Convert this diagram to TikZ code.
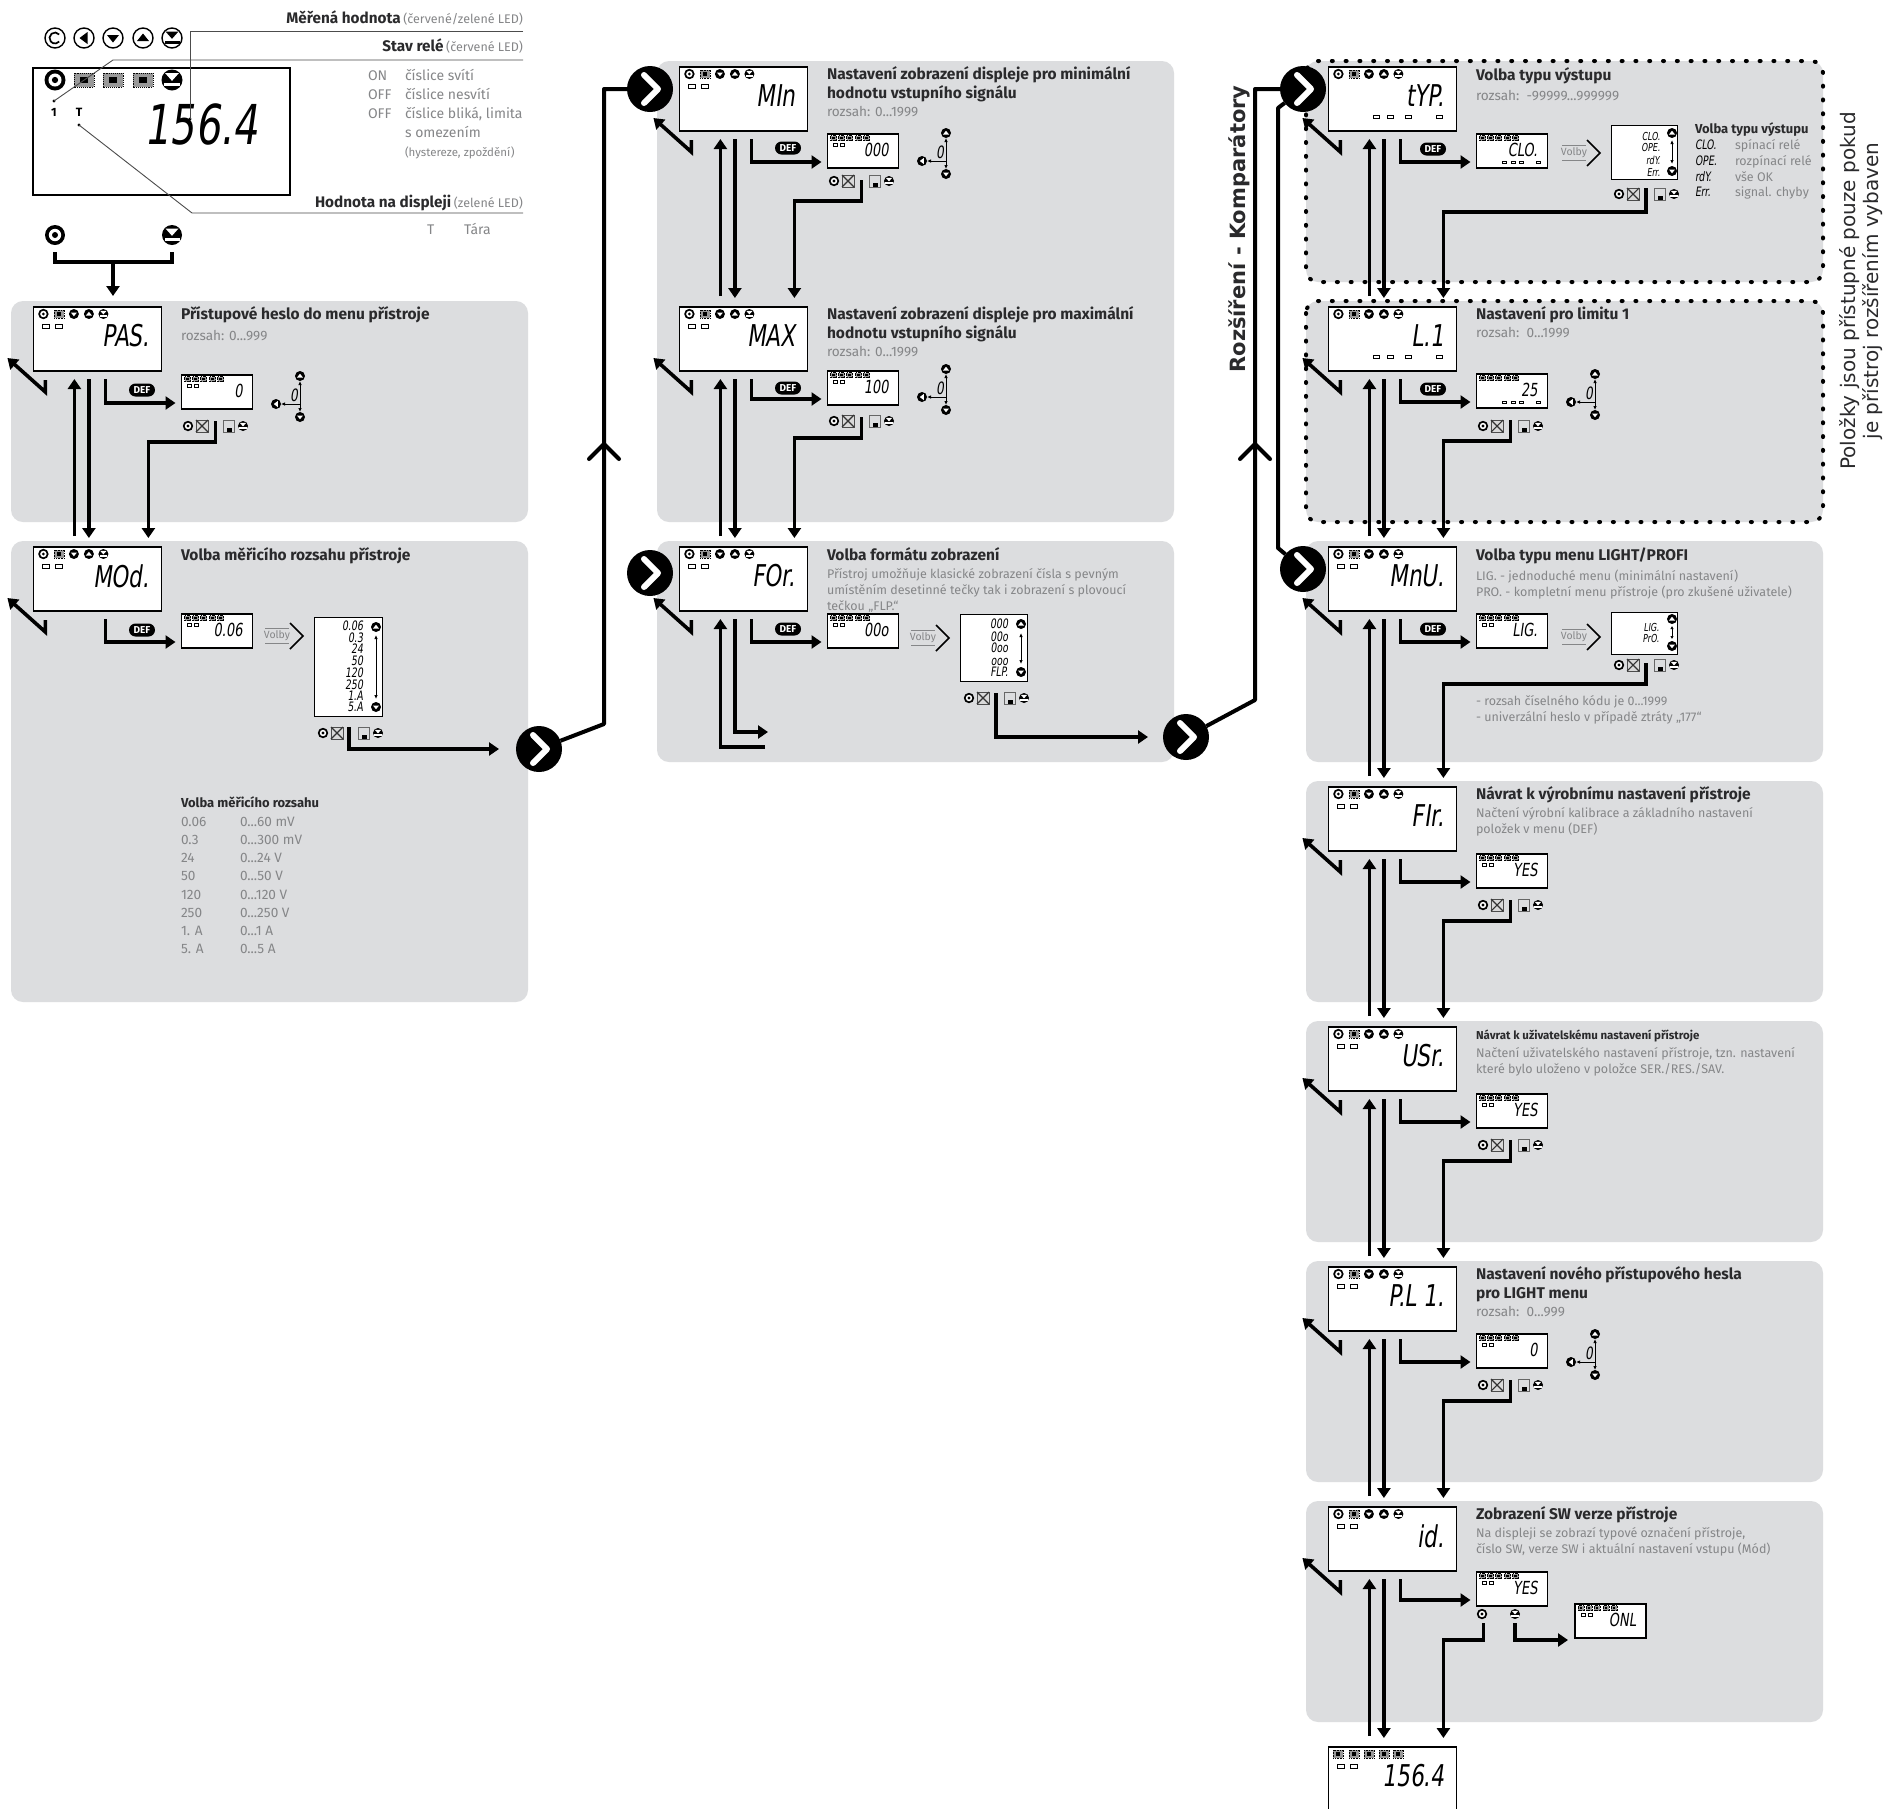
\documentclass[tikz,border=0pt]{standalone}
\usepackage{fontspec}
\setmainfont{Fira Sans}
\newfontfamily\segf[FakeStretch=0.72,FakeSlant=0.14]{DejaVu Sans}
\newfontfamily\djfont{DejaVu Sans}
\usetikzlibrary{arrows.meta,calc}
\definecolor{pfill}{HTML}{DCDDDF}
\definecolor{gr}{HTML}{858688}
\definecolor{dk}{HTML}{2A2A2C}
\newcounter{tc}
\newcommand\fs[1]{\fontsize{#1}{#1}\selectfont}
\newcommand\ddd{...}
\tikzset{
 conn/.style={line width=3.6pt,draw=black,-{Triangle[length=10pt,width=13pt]}},
 plainconn/.style={line width=4pt,draw=black},
 txt/.style={anchor=base west,inner sep=0pt,outer sep=0pt},
 ttl/.style={txt,yshift=-5pt,font=\bfseries\fs{15.5},text=dk},
 ttlm/.style={txt,yshift=-4pt,font=\bfseries\fs{13},text=dk},
 ttls/.style={txt,yshift=-4pt,font=\bfseries\fs{11.5},text=dk},
 dsc/.style={txt,yshift=-4pt,font=\fs{12.5},text=gr},
 rng/.style={txt,yshift=-4pt,font=\fs{13.6},text=gr},
 seglab/.style={anchor=east,inner sep=0pt,outer sep=0pt,text=black},
 bigfr/.style={anchor=north west,draw=black,line width=1.3pt,fill=white,minimum width=128pt,minimum height=64pt,inner sep=0pt,outer sep=0pt},
 smfr/.style={anchor=north west,draw=black,line width=1.1pt,fill=white,minimum width=71pt,minimum height=34pt,inner sep=0pt,outer sep=0pt},
 thinarr/.style={line width=.8pt,draw=black,-{Latex[length=4pt,width=3.5pt]}},
 chev/.style={circle,fill=black,minimum size=46pt,inner sep=0pt,outer sep=0pt},
 leader/.style={line width=.9pt,draw=black!70},
 pill/.style={fill=black,text=white,rounded corners=6.5pt,minimum width=26pt,minimum height=13pt,inner sep=0pt,font=\bfseries\fs{10}},
}
\newcommand\tx[4][]{\stepcounter{tc}\edef\tn{t\arabic{tc}}\node[#1] (\tn) at (#2,#3) {#4};}
\def\gc{white}
\newcommand\icd{\fill[\gc] (-.6,-.3)--(.6,-.3)--(0,.45)--cycle;}
\newcommand\icu{\fill[\gc] (-.6,.3)--(.6,.3)--(0,-.45)--cycle;}
\newcommand\icl{\fill[\gc] (.35,-.6)--(.35,.6)--(-.45,0)--cycle;}
\newcommand\ice{\fill[\gc] (-.65,-.65)--(.65,-.65)--(0,.08)--cycle;\fill[\gc] (-.75,.25) rectangle (.75,.55);}
\newcommand\icc{\fill[white] (0,0) circle (.62);\fill[black] (0,0) circle (.3);}
\newcommand\iccc{\draw[line width=1.7pt] (0,0) ++(-40:.55) arc (-40:-320:.55);}
\newcommand\ic[4]{\begin{scope}[shift={(#2,#3)},scale=#4]\fill[black] (0,0) circle (1);#1\end{scope}}
\newcommand\oic[4]{\begin{scope}[shift={(#2,#3)},scale=#4]\def\gc{black}\draw[fill=white,line width=1.4pt] (0,0) circle (1);#1\end{scope}}
\newcommand\blink[6]{\draw[densely dotted,line width=#5pt,fill=black!40] (#1-#3/2,#2-#4/2) rectangle (#1+#3/2,#2+#4/2);\fill[black] (#1-#3/5,#2-#4/5) rectangle (#1+#3/5,#2+#4/5);}
\newcommand\led[3]{\draw[line width=.7pt,fill=white] (#1,#2-#3*.3) rectangle ++(#3,#3*.6);}
\newcommand\topicons[2]{\ic\icc{#1+10}{#2+7}{5.2}\blink{#1+26}{#2+7}{10}{8}{.6}{}\ic\icd{#1+40.5}{#2+7}{5}\ic\icu{#1+55.5}{#2+7}{5}\ic\ice{#1+70}{#2+7}{5}}
\newcommand\topblinks[2]{\foreach \u in {10,26,40.5,55.5,70}{\blink{#1+\u}{#2+7}{10}{8}{.6}{}}}
\newcommand\ledsa[2]{\led{#1+9}{#2+19}{7}\led{#1+22}{#2+19}{7}}
\newcommand\ledsb[2]{\foreach \u in {45,59,77,108}{\led{#1+\u}{#2+50}{6}}}
\newcommand\frameb[5]{\node[bigfr] (#1) at (#2,#3) {};\tx[seglab]{#2+116}{#3+29}{\segf\fs{30}#4}}
\newcommand\bb[2]{\frameb{#1}{22.4}{6}{#2}{}\topicons{22.4}{6}\ledsa{22.4}{6}}
\newcommand\sframe[4]{\node[smfr] (#1) at (#2,#3) {};\foreach \u in {6,14,22,31,39}{\blink{#2+\u}{#3+4}{6}{5}{.4}{}}\tx[seglab]{#2+61}{#3+16}{\segf\fs{18}#4}}
\newcommand\sba[4]{\sframe{#1}{#2}{#3}{#4}\led{#2+6}{#3+11}{4}\led{#2+13}{#3+11}{4}}
\newcommand\sbb[4]{\sframe{#1}{#2}{#3}{#4}\foreach \u in {26,35,43,60}{\led{#2+\u}{#3+28}{3.5}}}
\newcommand\crossic[2]{\draw[line width=.7pt,draw=black!70,fill=black!15] (#1-6,#2-6) rectangle (#1+6,#2+6);\draw[line width=1.1pt,black!80] (#1-6,#2-6)--(#1+6,#2+6) (#1+6,#2-6)--(#1-6,#2+6);}
\newcommand\saveic[2]{\draw[line width=.8pt,draw=black!60,fill=pfill] (#1-5.5,#2-6) rectangle (#1+5.5,#2+6);\fill[black] (#1-2,#2+1.5) rectangle (#1+3,#2+6);}
\newcommand\btnrow[2]{\ic\icc{#1-27}{#2}{5.2}\crossic{#1-13}{#2}\saveic{#1+14}{#2}\ic\ice{#1+28}{#2}{5}}
\newcommand\edit[1]{\ic\icu{289}{#1}{5}\ic\icd{289}{#1+41}{5}\ic\icl{265}{#1+28}{5}\draw[thinarr] (289,#1+28)--(289,#1+5);\draw[thinarr] (289,#1+28)--(289,#1+36);\draw[thinarr] (289,#1+28)--(270,#1+28);\tx[seglab]{287}{#1+19}{\segf\fs{17}0}}
\newcommand\volby[2]{\begin{scope}[shift={(#1,#2)}]\draw[gr,line width=1pt] (0,-8)--(24,-8) (0,7)--(24,7);\tx[anchor=center,inner sep=0pt,text=gr,font=\fs{10.5}]{12}{0}{Volby}\draw[line width=1.5pt] (25,-13)--(38,0)--(25,13);\end{scope}}
\newcommand\pbg[2]{\fill[pfill,rounded corners=12pt] (0,0) rectangle (#1,#2);}
\newcommand\pbgd[2]{\fill[pfill,rounded corners=12pt] (0,0) rectangle (#1,#2);\draw[line width=4pt,line cap=round,dash pattern=on 1pt off 12.8pt,rounded corners=12pt] (0,0) rectangle (#1,#2);}
\newcommand\pillnode[3]{\node[pill] (#1) at (#2,#3) {DEF};}
\newcommand\chevnode[3]{\node[chev] (#1) at (#2,#3) {};\draw[white,line width=6pt,line cap=round,line join=round] (#2-6,#3-14)--(#2+8,#3)--(#2-6,#3+14);}
% connectors
\newcommand\backarr[1]{\draw[conn] ([shift={(12,9)}]#1.south west) -- ++(0,12) -- ([shift={(-26,51)}]#1.north west);}
\newcommand\defarr[2]{\draw[conn] ([shift={(72,8)}]#1.south west) |- ([shift={(-6,28)}]#2.north west);}
\newcommand\linkb[2]{\draw[conn] ([shift={(41,-11)}]#2.north west) -- ([shift={(41,8)}]#1.south west);\draw[conn] ([shift={(55.5,8)}]#1.south west) -- ([shift={(55.5,-9)}]#2.north west);}
\newcommand\retb[2]{\draw[conn] ([shift={(34,12)}]#1.south west) -- ++(0,21) -| ([shift={(115,-9)}]#2.north west);}
\begin{document}
\begin{tikzpicture}[x=1pt,y=-1pt]
\useasboundingbox (0,0) rectangle (1903,1808);
\fill[white] (0,0) rectangle (1903,1808);
% ---- overview
\begin{scope}
\oic\iccc{55}{38}{10}\oic\icl{84}{38}{10}\oic\icd{113}{38}{10}\oic\icu{143}{38}{10}\oic\ice{172}{38}{10}
\node[draw=black,line width=2.6pt,fill=white,minimum width=257pt,minimum height=127pt,inner sep=0pt] (mainbox) at (161.5,131.5) {};
\ic\icc{55}{80}{10.5}\blink{84}{80}{20}{14}{.9}{}\blink{113}{80}{20}{14}{.9}{}\blink{143}{80}{20}{14}{.9}{}\ic\ice{172}{80}{10.5}
\tx[anchor=center,inner sep=0pt,font=\bfseries\fs{12}]{54}{112}{1}
\tx[anchor=center,inner sep=0pt,font=\bfseries\fs{12}]{79}{112}{T}
\tx[seglab]{258}{124}{\segf\fs{55}156.4}
\coordinate (d1) at (190,119);\coordinate (d2) at (54,101);\coordinate (d3) at (79,125);
\fill (d1) circle (1.7);\fill (d2) circle (1.7);\fill (d3) circle (1.7);
\draw[leader] (523,31) -| (d1);
\draw[leader] (523,60) -- (113,60) -- (d2);
\draw[leader] (523,213) -- (192,213) -- (d3);
\tx[txt,anchor=base east,yshift=-5pt]{523}{18}{\textbf{\fs{15.3}\color{dk}Měřená hodnota} {\fs{12.5}\color{gr}(červené/zelené LED)}}
\tx[txt,anchor=base east,yshift=-5pt]{523}{46}{\textbf{\fs{15.3}\color{dk}Stav relé} {\fs{12.5}\color{gr}(červené LED)}}
\tx[txt,anchor=base east,yshift=-5pt]{523}{202}{\textbf{\fs{15.3}\color{dk}Hodnota na displeji} {\fs{12.5}\color{gr}(zelené LED)}}
\tx[dsc,font=\fs{14}]{368}{76}{ON}\tx[dsc,font=\fs{14}]{405}{76}{číslice svítí}
\tx[dsc,font=\fs{14}]{368}{95}{OFF}\tx[dsc,font=\fs{14}]{405}{95}{číslice nesvítí}
\tx[dsc,font=\fs{14}]{368}{114}{OFF}\tx[dsc,font=\fs{14}]{405}{114}{číslice bliká, limita}
\tx[dsc,font=\fs{14}]{405}{133}{s omezením}
\tx[dsc,font=\fs{11.5}]{405}{152}{(hystereze, zpoždění)}
\tx[dsc,font=\fs{14}]{427}{230}{T}\tx[dsc,font=\fs{14}]{464}{230}{Tára}
\ic\icc{55}{235}{10}\ic\ice{172}{235}{10}
\end{scope}
% ---- column 1
\begin{scope}[shift={(11,301)}]
\pbg{517}{221}\bb{pas}{PAS.}\sba{pass}{170.5}{74}{0}\pillnode{pasd}{131}{89}\btnrow{204}{125}\edit{75}
\tx[ttl]{170}{13}{Přístupové heslo do menu přístroje}\tx[rng]{170}{35}{rozsah: 0...999}
\end{scope}
\begin{scope}[shift={(11,541)}]
\pbg{517}{461}\bb{mod}{MOd.}\sba{mods}{170.5}{73}{0.06}\pillnode{modd}{131}{89}\volby{254}{95}
\node[draw=black,line width=1.1pt,fill=white,anchor=north west,minimum width=68pt,minimum height=99pt,inner sep=0pt] (modl) at (303,76) {};
\foreach \t/\y in {0.06/85,0.3/97,24/108,50/120,120/132,250/144,1.A/155,5.A/166}{\tx[seglab]{352}{\y}{\segf\fs{13}\t}}
\ic\icu{365}{86}{5}\ic\icd{365}{166}{5}\draw[thinarr,<->,>={Latex[length=4pt,width=3.5pt]}] (365,94)--(365,158);
\btnrow{339}{192}
\tx[ttl]{170}{14}{Volba měřicího rozsahu přístroje}
\tx[ttlm]{170}{262}{Volba měřicího rozsahu}
\foreach \a/\b/\y in {0.06/0\ddd60 mV/281,0.3/0\ddd300 mV/299,24/0\ddd24 V/317,50/0\ddd50 V/335,120/0\ddd120 V/354,250/0\ddd250 V/372,1. A/0\ddd1 A/390,5. A/0\ddd5 A/408}{\tx[rng]{170}{\y}{\a}\tx[rng]{229}{\y}{\b}}
\end{scope}
% ---- column 2
\begin{scope}[shift={(657,61)}]
\pbg{517}{461}\bb{min}{MIn}\sba{mins}{170.5}{73}{000}\pillnode{mind}{131}{87}\btnrow{204}{120}\edit{72}
\tx[ttl]{170}{13}{Nastavení zobrazení displeje pro minimální}\tx[ttl]{170}{32}{hodnotu vstupního signálu}\tx[rng]{170}{51}{rozsah: 0...1999}
\end{scope}
\begin{scope}[shift={(657,301)}]
\bb{max}{MAX}\sba{maxs}{170.5}{70}{100}\pillnode{maxd}{131}{87}\btnrow{204}{120}\edit{68}
\tx[ttl]{170}{13}{Nastavení zobrazení displeje pro maximální}\tx[ttl]{170}{32}{hodnotu vstupního signálu}\tx[rng]{170}{51}{rozsah: 0...1999}
\end{scope}
\begin{scope}[shift={(657,541)}]
\pbg{517}{221}\bb{for}{FOr.}\sba{fors}{170.5}{73}{00o}\pillnode{ford}{131}{88}\volby{254}{97}
\node[draw=black,line width=1.1pt,fill=white,anchor=north west,minimum width=67pt,minimum height=67pt,inner sep=0pt] (forl) at (303,73) {};
\foreach \t/\y in {000/83,00o/96,0oo/107,ooo/121,FLP./131}{\tx[seglab]{351}{\y}{\segf\fs{13}\t}}
\ic\icu{364}{83}{5}\ic\icd{364}{131}{5}\draw[thinarr,<->,>={Latex[length=4pt,width=3.5pt]}] (364,92)--(364,123);
\btnrow{339}{157}
\tx[ttl]{170}{14}{Volba formátu zobrazení}
\tx[dsc]{170}{33}{Přístroj umožňuje klasické zobrazení čísla s pevným}
\tx[dsc]{170}{49}{umístěním desetinné tečky tak i zobrazení s plovoucí}
\tx[dsc]{170}{65}{tečkou „FLP.“}
\end{scope}
% ---- column 3
\begin{scope}[shift={(1306,61)}]
\pbgd{517}{221}\frameb{typ}{22.4}{6}{tYP.}{}\topicons{22.4}{6}\ledsb{22.4}{6}\sbb{typs}{170.5}{73}{CLO.}\pillnode{typd}{127}{88}\volby{256}{92}
\node[draw=black,line width=1.1pt,fill=white,anchor=north west,minimum width=66pt,minimum height=54pt,inner sep=0pt] (typl) at (305,64) {};
\foreach \t/\y in {CLO./75,OPE./86,rdY./99,Err./111}{\tx[seglab]{354}{\y}{\segf\fs{11}\t}}
\ic\icu{366}{72}{5}\ic\icd{366}{110}{5}\draw[thinarr,<->,>={Latex[length=4pt,width=3.5pt]}] (366,79)--(366,103);
\btnrow{340}{133}
\tx[ttl]{170}{14}{Volba typu výstupu}\tx[rng]{170}{35}{rozsah:\ \ -99999...999999}
\tx[ttlm]{389}{68}{Volba typu výstupu}
\foreach \c/\d/\y in {CLO./spínací relé/84,OPE./rozpínací relé/100,rdY./vše OK/116,Err./signal. chyby/131}{\tx[txt,yshift=-4pt]{389}{\y}{\segf\fs{13}\c}\tx[dsc]{429}{\y}{\d}}
\end{scope}
\begin{scope}[shift={(1306,301)}]
\pbgd{517}{221}\frameb{lim}{22.4}{6}{L.1}{}\topicons{22.4}{6}\ledsb{22.4}{6}\sbb{lims}{170.5}{73}{25}\pillnode{limd}{127}{88}\btnrow{204}{125}\edit{73}
\tx[ttl]{170}{13}{Nastavení pro limitu 1}\tx[rng]{170}{32}{rozsah:\ \ 0...1999}
\end{scope}
\begin{scope}[shift={(1306,541)}]
\pbg{517}{221}\bb{mnu}{MnU.}\sba{mnus}{170.5}{73}{LIG.}\pillnode{mnud}{127}{88}\volby{256}{96}
\node[draw=black,line width=1.1pt,fill=white,anchor=north west,minimum width=66pt,minimum height=42pt,inner sep=0pt] (mnul) at (305,71) {};
\foreach \t/\y in {LIG./86,PrO./97}{\tx[seglab]{353}{\y}{\segf\fs{11}\t}}
\ic\icu{366}{78}{5}\ic\icd{366}{105}{5}\draw[thinarr,<->,>={Latex[length=3pt,width=3.5pt]}] (366,85)--(366,98);
\btnrow{340}{124}
\tx[ttl]{170}{14}{Volba typu menu LIGHT/PROFI}
\tx[dsc]{170}{35}{LIG. - jednoduché menu (minimální nastavení)}
\tx[dsc]{170}{51}{PRO. - kompletní menu přístroje (pro zkušené uživatele)}
\tx[dsc]{170}{160}{- rozsah číselného kódu je 0...1999}
\tx[dsc]{170}{176}{- univerzální heslo v případě ztráty „177“}
\end{scope}
\begin{scope}[shift={(1306,781)}]
\pbg{517}{221}\bb{fir}{FIr.}\sba{firs}{170.5}{73}{YES}\btnrow{204}{124}
\tx[ttl]{170}{13}{Návrat k výrobnímu nastavení přístroje}
\tx[dsc]{170}{32}{Načtení výrobní kalibrace a základního nastavení}
\tx[dsc]{170}{48}{položek v menu (DEF)}
\end{scope}
\begin{scope}[shift={(1306,1021)}]
\pbg{517}{221}\bb{usr}{USr.}\sba{usrs}{170.5}{73}{YES}\btnrow{204}{124}
\tx[ttls]{170}{14}{Návrat k uživatelskému nastavení přístroje}
\tx[dsc]{170}{32}{Načtení uživatelského nastavení přístroje, tzn. nastavení}
\tx[dsc]{170}{48}{které bylo uloženo v položce SER./RES./SAV.}
\end{scope}
\begin{scope}[shift={(1306,1261)}]
\pbg{517}{221}\bb{pli}{P.L 1.}\sba{plis}{170.5}{73}{0}\btnrow{204}{124}\edit{73}
\tx[ttl]{170}{13}{Nastavení nového přístupového hesla}\tx[ttl]{170}{32}{pro LIGHT menu}\tx[rng]{170}{51}{rozsah:\ \ 0...999}
\end{scope}
\begin{scope}[shift={(1306,1501)}]
\pbg{517}{221}\bb{idn}{id.}\sba{ids}{170.5}{71}{YES}\sba{onl}{269}{103}{ONL}
\ic\icc{176}{113}{5.2}\ic\ice{209}{113}{5}
\tx[ttl]{170}{13}{Zobrazení SW verze přístroje}
\tx[dsc]{170}{32}{Na displeji se zobrazí typové označení přístroje,}
\tx[dsc]{170}{48}{číslo SW, verze SW i aktuální nastavení vstupu (Mód)}
\end{scope}
\begin{scope}[shift={(1306,1741)}]
\frameb{fin}{22.4}{6}{156.4}{}\topblinks{22.4}{6}\ledsa{22.4}{6}
\end{scope}
% ---- rotated texts
\tx[anchor=center,rotate=90,inner sep=0pt,font=\djfont\bfseries\fs{21},text=dk]{1239}{229}{Rozšíření - Komparátory}
\tx[anchor=center,rotate=90,inner sep=0pt,font=\djfont\fs{20},text=dk]{1850}{291}{Položky jsou přístupné pouze pokud}
\tx[anchor=center,rotate=90,inner sep=0pt,font=\djfont\fs{20},text=dk]{1873}{291}{je přístroj rozšířením vybaven}
% ---- big chevrons
\chevnode{ca}{539}{749}\chevnode{cb}{650}{89}\chevnode{cc}{650}{573}\chevnode{cd}{1186}{737}\chevnode{ce}{1303}{89}\chevnode{cf}{1303}{569}
% ---- connectors
\coordinate (b1) at (604,724);\coordinate (b2) at (604,89);
\coordinate (b3) at (1255,700);\coordinate (b4) at (1255,89);
\coordinate (b5) at (1278,108);\coordinate (b6) at (1278,548);
\draw[plainconn,line join=round] (ca) -- (b1) -- (b2) -- (cb);
\draw[plainconn,line join=round] (cd) -- (b3) -- (b4) -- (ce);
\draw[plainconn,line join=round] (ce) -- (b5) -- (b6) -- (cf);
\draw[plainconn,line cap=round] (589,459)--(604,444)--(619,459);
\draw[plainconn,line cap=round] (1240,459)--(1255,444)--(1270,459);
\coordinate (tl) at (55,252);\coordinate (tr) at (172,252);\coordinate (tm) at (113,262);\coordinate (te) at (113,296);
\draw[plainconn] (tl) -- ++(0,10) -- (172,262) -- (tr);
\draw[conn] (tm) -- (te);
% column 1
\backarr{pas}\defarr{pas}{pass}\linkb{pas}{mod}\retb{pass}{mod}
\backarr{mod}\defarr{mod}{mods}
\draw[conn] ([shift={(35,10)}]modl.south west) |- ([xshift=-17pt]ca.west);
% column 2
\backarr{min}\defarr{min}{mins}\linkb{min}{max}\retb{mins}{max}
\backarr{max}\defarr{max}{maxs}\linkb{max}{for}\retb{maxs}{for}
\backarr{for}\defarr{for}{fors}
\coordinate (fua) at (765,747);\coordinate (fdb) at (768,732);
\draw[conn] (fua) -| ([shift={(41,8)}]for.south west);
\draw[conn] ([shift={(55.5,8)}]for.south west) |- (fdb);
\draw[conn] ([shift={(36,11)}]forl.south west) |- ([xshift=-15pt]cd.west);
% column 3
\backarr{typ}\defarr{typ}{typs}\linkb{typ}{lim}
\draw[conn] ([shift={(35,8)}]typl.south west) -- ++(0,24) -| ([shift={(115,-9)}]lim.north west);
\backarr{lim}\defarr{lim}{lims}\linkb{lim}{mnu}\retb{lims}{mnu}
\backarr{mnu}\defarr{mnu}{mnus}\linkb{mnu}{fir}
\draw[conn] ([shift={(35,8)}]mnul.south west) -- ++(0,21) -| ([shift={(115,-9)}]fir.north west);
\backarr{fir}\defarr{fir}{firs}\linkb{fir}{usr}\retb{firs}{usr}
\backarr{usr}\defarr{usr}{usrs}\linkb{usr}{pli}\retb{usrs}{pli}
\backarr{pli}\defarr{pli}{plis}\linkb{pli}{idn}\retb{plis}{idn}
\backarr{idn}\defarr{idn}{ids}\linkb{idn}{fin}
\draw[conn] ([shift={(7,17)}]ids.south west) -- ++(0,17) -| ([shift={(115,-9)}]fin.north west);
\draw[conn] ([shift={(38.5,17)}]ids.south west) |- ([shift={(-7,36)}]onl.north west);
\end{tikzpicture}
\end{document}
